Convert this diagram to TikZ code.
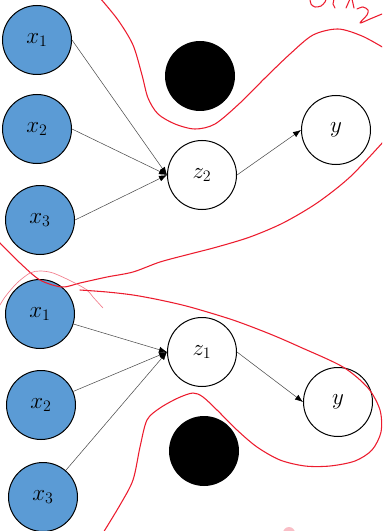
\documentclass[tikz,border=0pt]{standalone}
\usetikzlibrary{arrows.meta}
\definecolor{nodeblue}{RGB}{91,155,213}
\definecolor{penred}{RGB}{236,28,46}
\definecolor{penpink}{RGB}{242,125,140}

\begin{document}
\begin{tikzpicture}[x=0.75pt, y=-0.75pt, line width=0.75pt,
  innode/.style={circle, draw, fill=nodeblue, minimum size=51.75pt, inner sep=0pt, font=\LARGE},
  hidnode/.style={circle, draw, fill=white, minimum size=51.75pt, inner sep=0pt, font=\LARGE},
  blob/.style={circle, fill=black, minimum size=52.5pt, inner sep=0pt},
  link/.style={draw=black!70, line width=0.4pt, -{Latex[length=6pt, width=4.5pt, color=black]}},
  pen/.style={penred, line width=0.8pt, line cap=round, line join=round}]
  \clip (0,0) rectangle (382,531);
  % upper net
  \foreach \i/\x/\y in {1/37/40, 2/37/129, 3/40/220} { \node[innode] (tx\i) at (\x,\y) {$x_\i$}; }
  \node[hidnode] (z2) at (202,175) {$z_2$};
  \node[hidnode] (ty) at (336,130) {$y$};
  \node[blob] (tblob) at (200,76) {};
  \foreach \i in {1,2,3} { \draw[link] (tx\i.east) -- (z2.west); }
  \draw[link] (z2.east) -- (ty.west);
  % lower net
  \foreach \i/\x/\y in {1/40/314, 2/41/405, 3/43/497} { \node[innode] (bx\i) at (\x,\y) {$x_\i$}; }
  \node[hidnode] (z1) at (202,352) {$z_1$};
  \node[hidnode] (by) at (338,402) {$y$};
  \node[blob] (bblob) at (204,451) {};
  \foreach \i in {1,2,3} { \draw[link] (bx\i) -- (z1.west); }
  \draw[link] (z1.east) -- (by.west);
  % pen strokes
  \draw[pen] plot[smooth] coordinates {(100,-2) (118,20) (133,45) (142,75) (148,98) (158,114) (175,124) (195,129) (215,124) (240,103) (265,78) (290,54) (313,35) (338,29) (362,36) (384,48)};
  \draw[pen] plot[smooth] coordinates {(384,141) (350,177) (317,203) (283,223) (250,237) (217,247) (190,254) (160,262) (133,272) (107,277) (80,283) (62,287) (40,280) (20,263) (0,243) (-3,239)};
  \draw[penpink, line width=0.5pt] plot[smooth] coordinates {(-3,310) (5,297) (17,283) (30,273) (40,271) (53,273) (73,282) (87,290) (93,297) (103,308)};
  \draw[pen] plot[smooth] coordinates {(80,290) (107,292) (133,295) (160,300) (190,307) (233,320) (270,334) (300,347) (343,367) (368,388) (380,410) (381,432) (372,450) (355,461) (330,466) (305,466) (280,460) (257,447) (237,430) (217,410) (203,397) (193,393) (178,398) (160,408) (147,420) (140,447) (133,480) (120,505) (103,533)};
  \draw[pen] plot[smooth] coordinates {(310,-1) (311,4) (315,7) (321,6) (325,2) (326,-1)};
  \draw[pen] (334,-1) -- (333,4) -- (335,8);
  \draw[pen] (346,8) -- (350,-1);
  \draw[pen] (352,-1) -- (354,8);
  \draw[pen] plot[smooth] coordinates {(357,9) (363,7) (368,10) (367,15) (360,23) (370,19) (382,14)};
  \fill[penpink!50] (289,533) circle (6);
\end{tikzpicture}
\end{document}
